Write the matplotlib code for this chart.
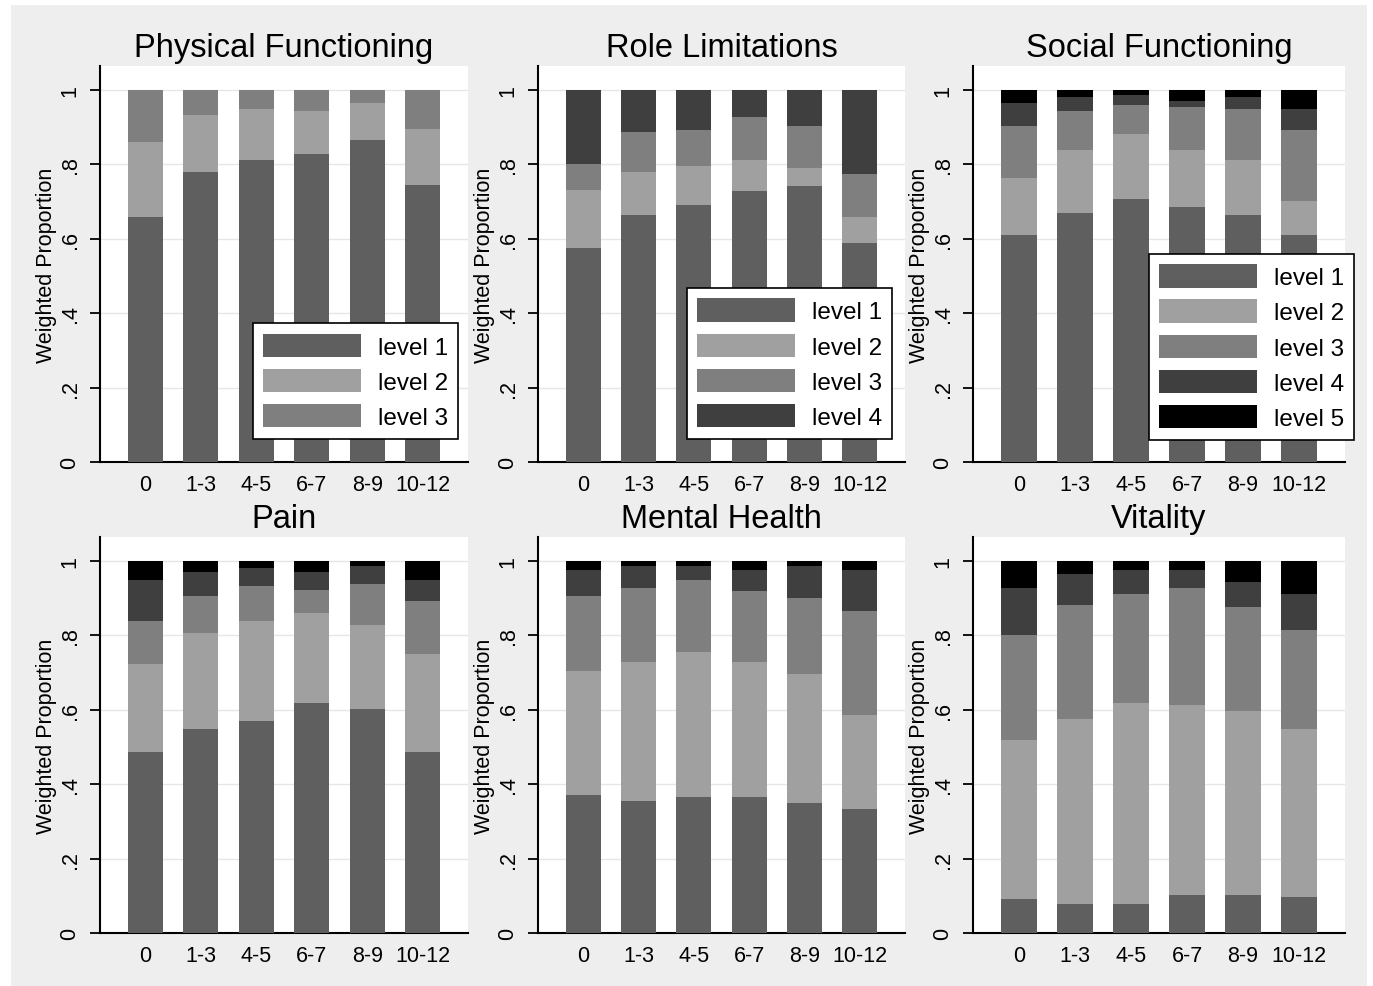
import matplotlib
matplotlib.use("Agg")
import matplotlib.pyplot as plt
from matplotlib.patches import Rectangle
import numpy as np

plt.rcParams['font.family'] = ['Liberation Sans', 'DejaVu Sans']

categories = ["0", "1-3", "4-5", "6-7", "8-9", "10-12"]
level_names = ["level 1", "level 2", "level 3", "level 4", "level 5"]
level_colors = ["#5f5f5f", "#a0a0a0", "#7f7f7f", "#3f3f3f", "#000000"]
titles = ["Physical Functioning", "Role Limitations", "Social Functioning",
          "Pain", "Mental Health", "Vitality"]

# proportions per level (each list: one value per category)
pf_l1 = [0.658, 0.780, 0.811, 0.827, 0.864, 0.743]
pf_l2 = [0.201, 0.153, 0.138, 0.117, 0.101, 0.152]
pf_l3 = [0.141, 0.067, 0.051, 0.056, 0.035, 0.105]

rl_l1 = [0.574, 0.664, 0.691, 0.727, 0.742, 0.589]
rl_l2 = [0.158, 0.116, 0.105, 0.084, 0.049, 0.069]
rl_l3 = [0.069, 0.106, 0.095, 0.117, 0.111, 0.117]
rl_l4 = [0.199, 0.114, 0.109, 0.072, 0.098, 0.225]

sf_l1 = [0.611, 0.669, 0.706, 0.685, 0.664, 0.611]
sf_l2 = [0.153, 0.169, 0.174, 0.153, 0.147, 0.090]
sf_l3 = [0.138, 0.106, 0.079, 0.116, 0.138, 0.190]
sf_l4 = [0.062, 0.036, 0.026, 0.016, 0.031, 0.058]
sf_l5 = [0.036, 0.020, 0.015, 0.030, 0.020, 0.051]

pa_l1 = [0.486, 0.548, 0.570, 0.618, 0.602, 0.486]
pa_l2 = [0.237, 0.258, 0.269, 0.242, 0.226, 0.263]
pa_l3 = [0.116, 0.100, 0.094, 0.062, 0.110, 0.142]
pa_l4 = [0.110, 0.065, 0.047, 0.049, 0.048, 0.058]
pa_l5 = [0.051, 0.029, 0.020, 0.029, 0.014, 0.051]

mh_l1 = [0.371, 0.354, 0.365, 0.365, 0.349, 0.333]
mh_l2 = [0.332, 0.373, 0.389, 0.362, 0.348, 0.253]
mh_l3 = [0.203, 0.201, 0.195, 0.192, 0.204, 0.278]
mh_l4 = [0.070, 0.058, 0.037, 0.057, 0.085, 0.112]
mh_l5 = [0.024, 0.014, 0.014, 0.024, 0.014, 0.024]

vi_l1 = [0.091, 0.077, 0.077, 0.102, 0.102, 0.096]
vi_l2 = [0.427, 0.498, 0.541, 0.510, 0.494, 0.452]
vi_l3 = [0.284, 0.305, 0.294, 0.316, 0.279, 0.265]
vi_l4 = [0.126, 0.085, 0.064, 0.048, 0.069, 0.099]
vi_l5 = [0.072, 0.035, 0.024, 0.024, 0.056, 0.088]

panels = [
    [pf_l1, pf_l2, pf_l3],
    [rl_l1, rl_l2, rl_l3, rl_l4],
    [sf_l1, sf_l2, sf_l3, sf_l4, sf_l5],
    [pa_l1, pa_l2, pa_l3, pa_l4, pa_l5],
    [mh_l1, mh_l2, mh_l3, mh_l4, mh_l5],
    [vi_l1, vi_l2, vi_l3, vi_l4, vi_l5],
]

W, H = 1373, 987
fig = plt.figure(figsize=(W / 100, H / 100), dpi=100, facecolor="white")
bg = Rectangle((11 / W, 0), (1367 - 11) / W, (H - 6) / H,
               transform=fig.transFigure, facecolor="#eeeeee",
               edgecolor="none", zorder=-10)
fig.patches.append(bg)

lefts = [100, 538, 973]
widths = [368, 367, 372]
tops = [67, 538]
bottoms = [463, 934]

# legend placement (right, bottom) in pixel coords, only for top row panels
legend_px = {0: (458, 440), 1: (892, 440), 2: (1354, 441)}

for i, levels in enumerate(panels):
    r, c = divmod(i, 3)
    l = lefts[c]
    w = widths[c]
    t = tops[r]
    b = bottoms[r]
    ax = fig.add_axes([l / W, (H - b) / H, w / W, (b - t) / H])
    ax.set_zorder(1)
    ax.set_facecolor("white")
    x = np.arange(len(categories))
    bottom = np.zeros(len(categories))
    handles = []
    for k, vals in enumerate(levels):
        vals = np.array(vals)
        h = ax.bar(x, vals, width=0.63, bottom=bottom, color=level_colors[k],
                   edgecolor="none", zorder=3, label=level_names[k])
        handles.append(h)
        bottom += vals
    ax.set_xlim(-0.82, 5.82)
    ax.set_ylim(0, 1.064)
    ax.set_yticks([0, 0.2, 0.4, 0.6, 0.8, 1.0])
    ax.set_yticklabels(["0", ".2", ".4", ".6", ".8", "1"], rotation=90,
                       va="center", fontsize=15.5)
    ax.set_xticks(x)
    ax.set_xticklabels(categories, fontsize=15.5)
    ax.tick_params(axis="x", length=0, pad=9)
    ax.tick_params(axis="y", length=7, width=1.3, pad=7, direction="out")
    ax.grid(axis="y", color="#e6e6e6", linewidth=1.0, zorder=1)
    for s in ["top", "right"]:
        ax.spines[s].set_visible(False)
    for s in ["left", "bottom"]:
        ax.spines[s].set_linewidth(1.5)
        ax.spines[s].set_color("black")
    ax.set_ylabel("Weighted Proportion", fontsize=15.5, labelpad=2)
    ax.set_title(titles[i], fontsize=23.5, pad=7)

    if i in legend_px:
        rx, by = legend_px[i]
        ax_x = (rx - l) / w
        ax_y = (b - by) / (b - t)
        leg = ax.legend(handles=handles, loc="lower right",
                        bbox_to_anchor=(ax_x, ax_y), fontsize=17.5,
                        frameon=True, fancybox=False, framealpha=1,
                        edgecolor="black", handlelength=4.0,
                        handleheight=1.1, labelspacing=0.42,
                        handletextpad=0.7, borderpad=0.42,
                        borderaxespad=0.0)
        leg.get_frame().set_linewidth(1.2)
        leg.set_zorder(10)

fig.savefig("out.png", dpi=100, facecolor=fig.get_facecolor())
